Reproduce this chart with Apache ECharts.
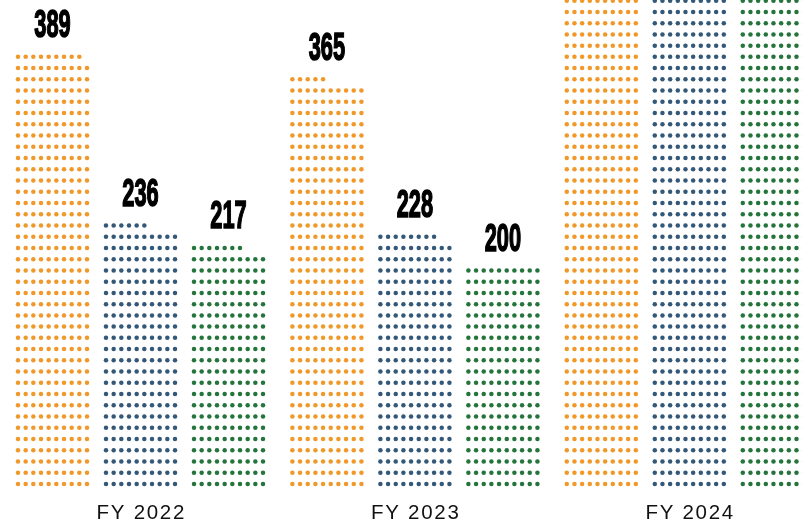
<!DOCTYPE html>
<html>
<head>
  <meta charset="utf-8">
  <title>waffle columns</title>
  <script src="https://cdn.jsdelivr.net/npm/echarts@6/dist/echarts.min.js"></script>
  <style>
    html, body { margin: 0; padding: 0; background: #fff; }
    #chart { width: 802px; height: 522px; }
  </style>
</head>
<body>
  <div id="chart"></div>
  <script type="text/javascript">
    // data (FY 2024 runs past the top edge, values estimated)
    var years = ['FY 2022', 'FY 2023', 'FY 2024'];
    var orangeVals = [389, 365, 470];
    var blueVals = [236, 228, 455];
    var greenVals = [217, 200, 448];
    var colors = ['#F0992A', '#345878', '#24743C'];

    var chart = echarts.init(document.getElementById('chart'));

    // one dot per unit, 10 dots per row, each row = 10 on the y axis
    function makeRender(slot) {
      return function (params, api) {
        var cat = api.value(0);
        var v = api.value(1);
        var base = api.coord([cat, 0]);
        var bw = api.size([1, 0])[0];
        var rowH = api.size([0, 10])[1];
        var pitch = bw * 0.02795;
        var cx = base[0] + (slot - 1) * bw * 0.3207;
        var x0 = cx - 4.5 * pitch;
        var kids = [];
        var fill = api.visual('color');
        for (var i = 0; i < v; i++) {
          var r = Math.floor(i / 10), c = i % 10;
          kids.push({
            type: 'circle',
            shape: { cx: x0 + c * pitch, cy: base[1] - (r + 0.5) * rowH, r: 2.25 },
            style: { fill: fill }
          });
        }
        var rows = Math.ceil(v / 10);
        var topY = base[1] - (rows - 0.5) * rowH;
        kids.push({
          type: 'text',
          x: cx,
          y: topY - 11,
          scaleX: 0.56,
          style: {
            text: String(v),
            font: 'bold 39px "Liberation Sans"',
            fill: '#000',
            stroke: '#000',
            lineWidth: 1.6,
            align: 'center',
            verticalAlign: 'bottom'
          }
        });
        return { type: 'group', children: kids };
      };
    }

    function toData(arr) {
      var out = [];
      for (var i = 0; i < arr.length; i++) out.push([i, arr[i]]);
      return out;
    }

    var option = {
      animation: false,
      grid: { left: 3.3, width: 823.2, top: 0, bottom: 32.4, outerBoundsMode: 'none', containLabel: false },
      xAxis: {
        type: 'category',
        data: years,
        axisLine: { show: false },
        axisTick: { show: false },
        axisLabel: {
          margin: 13,
          fontFamily: 'Liberation Sans',
          fontSize: 20.5,
          color: '#111',
          formatter: function (s) { return s.split('').join('\u200A'); }
        }
      },
      yAxis: { type: 'value', min: 0, max: 435.6, show: false },
      series: [
        { type: 'custom', clip: false, color: colors[0], renderItem: makeRender(0), encode: { x: 0, y: 1 }, data: toData(orangeVals) },
        { type: 'custom', clip: false, color: colors[1], renderItem: makeRender(1), encode: { x: 0, y: 1 }, data: toData(blueVals) },
        { type: 'custom', clip: false, color: colors[2], renderItem: makeRender(2), encode: { x: 0, y: 1 }, data: toData(greenVals) }
      ]
    };
    chart.setOption(option);
  </script>
</body>
</html>
